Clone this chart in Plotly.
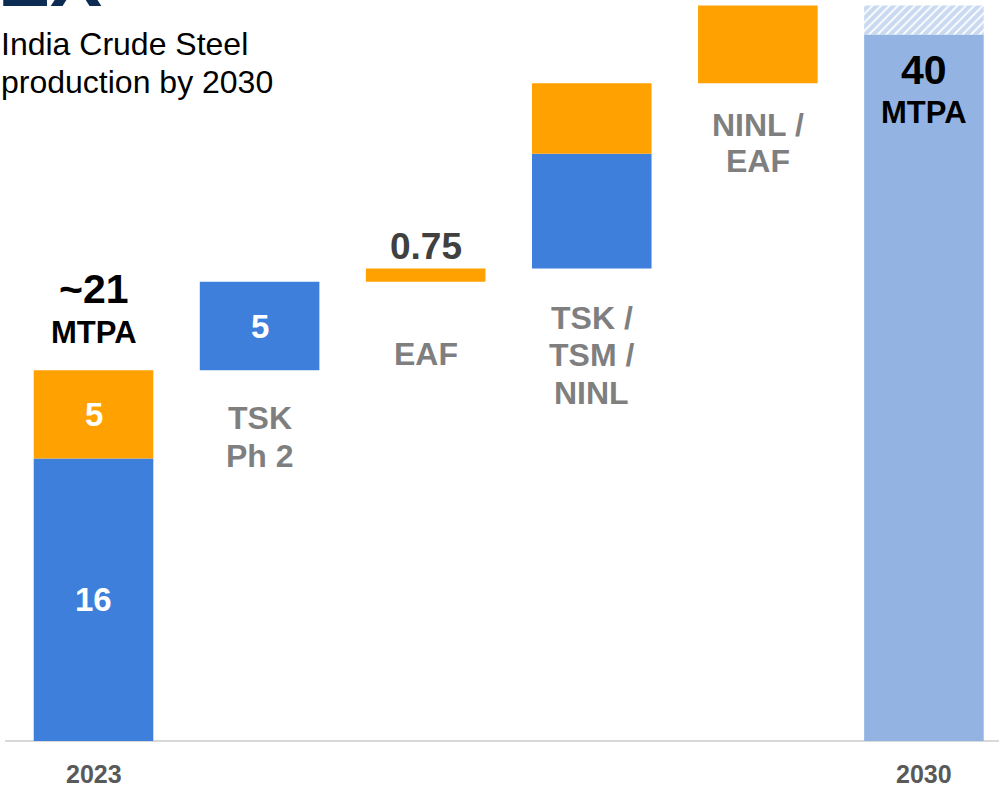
import plotly.graph_objects as go

# ---- data ----
categories = ["2023", "TSK<br>Ph 2", "EAF", "TSK /<br>TSM /<br>NINL", "NINL /<br>EAF", "2030"]
blue_values = [16, 5, 0, 6.5, 0, 0]
orange_values = [5, 0, 0.75, 4, 4.4, 0]
blue_labels = ["16", "5", "", "", "", ""]
orange_labels = ["5", "", "", "", "", ""]
total_2030 = 40
total_labels = {"2023": ("~21", "MTPA"), "2030": ("40", "MTPA")}
step_value_label = {2: "0.75"}
title_lines = ["India Crude Steel", "production by 2030"]

BLUE = "#3D7FDB"
ORANGE = "#FFA100"
LIGHT = "#93B4E2"
GREY = "#7F7F7F"
FONT = "Liberation Sans, Arial, sans-serif"

n = len(categories)
xs = list(range(n))

# waterfall bases
blue_base, orange_base, tops = [], [], []
running = 0.0
for i in range(n - 1):
    blue_base.append(running)
    running += blue_values[i]
    orange_base.append(running)
    running += orange_values[i]
    tops.append(running)
final_total = running

fig = go.Figure()
W = 0.72
fig.add_trace(go.Bar(x=xs[:-1], y=blue_values[:-1], base=blue_base, width=W,
                     marker=dict(color=BLUE, line=dict(width=0)), hoverinfo="skip"))
fig.add_trace(go.Bar(x=xs[:-1], y=orange_values[:-1], base=orange_base, width=W,
                     marker=dict(color=ORANGE, line=dict(width=0)), hoverinfo="skip"))
# 2030 target
fig.add_trace(go.Bar(x=[xs[-1]], y=[total_2030], base=[0], width=W,
                     marker=dict(color=LIGHT, line=dict(width=0)), hoverinfo="skip"))
fig.add_trace(go.Bar(x=[xs[-1]], y=[final_total - total_2030], base=[total_2030], width=W,
                     marker=dict(color=LIGHT, line=dict(width=0),
                                 pattern=dict(shape="/", bgcolor="white", fgcolor=LIGHT,
                                              size=6, solidity=0.7)),
                     hoverinfo="skip"))

ann = []
# white value labels inside bars
for i in range(n - 1):
    if blue_labels[i]:
        ann.append(dict(x=xs[i], y=blue_base[i] + blue_values[i] / 2, text="<b>" + blue_labels[i] + "</b>",
                        showarrow=False, font=dict(family=FONT, size=33, color="white")))
    if orange_labels[i]:
        ann.append(dict(x=xs[i], y=orange_base[i] + orange_values[i] / 2, text="<b>" + orange_labels[i] + "</b>",
                        showarrow=False, font=dict(family=FONT, size=33, color="white")))

# step category labels below each step bar (px offset of first line below bar bottom)
first_offset = {1: 48, 2: 72, 3: 49, 4: 42}
line_gap = {1: 38, 2: 37, 3: 37.5, 4: 36}
step_bottom = {1: blue_base[1], 2: orange_base[2], 3: blue_base[3], 4: orange_base[4]}
for i, off in first_offset.items():
    for k, line in enumerate(categories[i].split("<br>")):
        ann.append(dict(x=xs[i], y=step_bottom[i], text="<b>" + line + "</b>",
                        showarrow=False, yanchor="middle", yshift=-(off + k * line_gap[i]),
                        font=dict(family=FONT, size=32, color=GREY)))

# step value label
for i, t in step_value_label.items():
    ann.append(dict(x=xs[i], y=tops[i], text="<b>" + t + "</b>", showarrow=False,
                    yanchor="middle", yshift=22, font=dict(family=FONT, size=37, color="#404040")))

# total labels
big, unit = total_labels["2023"]
ann.append(dict(x=xs[0], y=tops[0], text="<b>" + big + "</b>", showarrow=False,
                yanchor="middle", yshift=81, font=dict(family=FONT, size=41, color="black")))
ann.append(dict(x=xs[0], y=tops[0], text="<b>" + unit + "</b>", showarrow=False,
                yanchor="middle", yshift=38, font=dict(family=FONT, size=31, color="black")))
big, unit = total_labels["2030"]
ann.append(dict(x=xs[-1], y=total_2030, text="<b>" + big + "</b>", showarrow=False,
                yanchor="middle", yshift=-35, font=dict(family=FONT, size=41, color="black")))
ann.append(dict(x=xs[-1], y=total_2030, text="<b>" + unit + "</b>", showarrow=False,
                yanchor="middle", yshift=-78, font=dict(family=FONT, size=31, color="black")))

# axis labels
for i in (0, n - 1):
    ann.append(dict(x=xs[i], y=0, text="<b>" + categories[i] + "</b>", showarrow=False,
                    yanchor="middle", yshift=-33, font=dict(family=FONT, size=25, color="#595959")))

# title
for k, line in enumerate(title_lines):
    ann.append(dict(xref="paper", yref="paper", x=0.0, y=1, xanchor="left", yanchor="middle",
                    xshift=-1, yshift=-(44 + k * 38), align="left", text=line, showarrow=False,
                    font=dict(family=FONT, size=32, color="black")))
# cropped logo fragment
ann.append(dict(xref="paper", yref="paper", x=0.0, y=1, xanchor="left", yanchor="bottom",
                xshift=-4, yshift=-25, text="<b>EX</b>", showarrow=False,
                font=dict(family=FONT, size=78, color="#0D2C54")))

fig.update_layout(
    width=999, height=787,
    margin=dict(l=0, r=0, t=0, b=0),
    paper_bgcolor="white", plot_bgcolor="white",
    showlegend=False, barmode="overlay",
    xaxis=dict(range=[-0.563, 5.452], visible=False, fixedrange=True),
    yaxis=dict(range=[-2.605, 41.96], visible=False, fixedrange=True),
    annotations=ann,
    shapes=[dict(type="line", xref="paper", yref="y", x0=0.005, x1=1, y0=0, y1=0,
                 line=dict(color="#D9D9D9", width=2), layer="below")],
)

fig.write_html("out.html", config={"displayModeBar": False},
               post_script="document.body.style.margin='0';document.body.style.overflow='hidden';")
